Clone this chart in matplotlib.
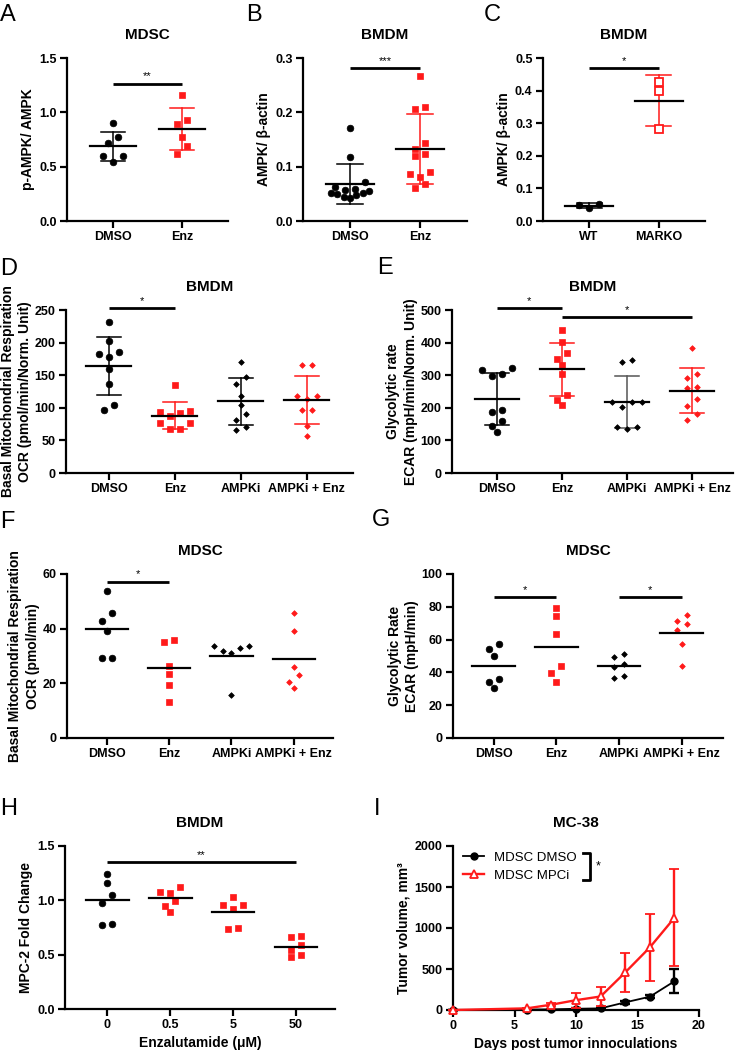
import numpy as np
import matplotlib
matplotlib.use("Agg")
import matplotlib.pyplot as plt
from matplotlib.lines import Line2D

plt.rcParams['font.family'] = ['Liberation Sans', 'DejaVu Sans']
plt.rcParams['font.weight'] = 'bold'
plt.rcParams['axes.labelweight'] = 'bold'

RED = '#ff1a1a'

# ---- data ----
# A  MDSC p-AMPK/AMPK
a_dmso = [0.90, 0.77, 0.72, 0.60, 0.60, 0.54]
a_enz = [1.16, 0.93, 0.89, 0.77, 0.69, 0.62]
# B  BMDM AMPK/b-actin
b_dmso = [0.171, 0.117, 0.071, 0.062, 0.059, 0.057, 0.056, 0.052, 0.052, 0.050, 0.048, 0.045, 0.042]
b_enz = [0.266, 0.207, 0.210, 0.144, 0.132, 0.123, 0.119, 0.086, 0.091, 0.081, 0.069, 0.060]
# C  BMDM WT vs MARKO
c_wt = [0.052, 0.040, 0.050]
c_marko = [0.427, 0.399, 0.281]
# D  BMDM OCR
d_dmso = [232, 203, 183, 185, 178, 160, 137, 97, 105]
d_enz = [135, 95, 92, 87, 93, 77, 77, 67, 68]
d_ampki = [171, 148, 136, 118, 104, 91, 82, 71, 66]
d_combo = [165, 165, 118, 118, 114, 97, 97, 72, 56]
# E  BMDM ECAR
e_dmso = [316, 298, 304, 321, 187, 192, 161, 145, 126]
e_enz = [439, 403, 367, 349, 332, 304, 238, 224, 209]
e_ampki = [340, 347, 217, 217, 202, 217, 140, 136, 140]
e_combo = [383, 303, 291, 260, 263, 228, 204, 181, 163]
# F  MDSC OCR
f_dmso = [53.9, 45.7, 42.9, 39.0, 29.3, 29.3]
f_enz = [35.7, 35.0, 26.5, 23.5, 19.4, 13.2]
f_ampki = [33.7, 32.0, 31.0, 32.9, 33.7, 15.9]
f_combo = [45.7, 39.3, 26.1, 23.0, 20.4, 18.3]
# G  MDSC ECAR
g_dmso = [54.5, 57.3, 50.2, 35.8, 33.9, 30.5]
g_enz = [79.3, 74.2, 63.6, 43.7, 39.6, 34.1]
g_ampki = [45.1, 51.2, 49.2, 43.5, 36.4, 38.0]
g_combo = [71.5, 75.0, 69.3, 65.7, 57.5, 43.7]
# H  MPC-2 fold change
h_doses = ['0', '0.5', '5', '50']
h_0 = [1.246, 1.164, 1.051, 0.978, 0.773, 0.782]
h_05 = [1.127, 1.072, 1.078, 0.993, 0.950, 0.889]
h_5 = [1.033, 0.956, 0.956, 0.923, 0.736, 0.748]
h_50 = [0.663, 0.675, 0.590, 0.547, 0.495, 0.474]
# I  MC-38 tumour growth
i_days = [0, 6, 8, 10, 12, 14, 16, 18]
i_dmso = [0, 5, 8, 15, 20, 93, 162, 350]
i_dmso_sd = [0, 3, 4, 6, 10, 15, 20, 148]
i_mpci = [0, 20, 65, 120, 165, 458, 763, 1124]
i_mpci_sd = [0, 8, 20, 93, 115, 240, 409, 592]

treat4 = ['DMSO', 'Enz', 'AMPKi', 'AMPKi + Enz']

TICK = 9
YLAB = 10
TITLE = 11

W, H = 736, 1050
fig = plt.figure(figsize=(W / 100, H / 100), dpi=100)


def px_axes(l, t, r, b):
    return fig.add_axes([l / W, 1 - b / H, (r - l) / W, (b - t) / H])


def style(ax):
    for s in ['top', 'right']:
        ax.spines[s].set_visible(False)
    for s in ['left', 'bottom']:
        ax.spines[s].set_linewidth(1.6)
    ax.tick_params(width=1.6, length=5, labelsize=TICK, pad=2.5)


def swarm(vals, px_x, px_y, thr=8, gap=10, maxw=44):
    # GraphPad-like spreading: rows of close values, lowest in the middle
    vals = np.asarray(vals, float)
    order = np.argsort(-vals, kind='stable')
    rows = []
    for i in order:
        if rows and (vals[rows[-1][0]] - vals[i]) * px_y < thr:
            rows[-1].append(i)
        else:
            rows.append([i])
    off = np.zeros(len(vals))
    for row in rows:
        n = len(row)
        step = min(gap, maxw / n)
        row = sorted(row, key=lambda k: vals[k])
        for j, k in enumerate(row):
            if n % 2:
                slot = ((j + 1) // 2) * (-1 if j % 2 else 1)
            else:
                slot = (j // 2 + 0.5) * (-1 if j % 2 == 0 else 1)
            off[k] = slot * step
    return off / px_x


def dots(ax, groups, labels, styles, xlim, ylim, yticks, fmt, sd=True, errc=None):
    style(ax)
    ax.set_xlim(*xlim)
    ax.set_ylim(*ylim)
    pos = ax.get_position()
    px_x = pos.width * W / (xlim[1] - xlim[0])
    px_y = pos.height * H / (ylim[1] - ylim[0])
    for i, (vals, st) in enumerate(zip(groups, styles)):
        vals = np.asarray(vals, float)
        x = i + swarm(vals, px_x, px_y)
        m = vals.mean()
        if sd:
            s = vals.std(ddof=1)
            c = errc[i] if errc else st['color']
            ax.plot([i, i], [m - s, m + s], color=c, lw=1.1, zorder=2)
            for yy in (m - s, m + s):
                ax.plot([i - 0.18, i + 0.18], [yy, yy], color=c, lw=1.1, zorder=2)
        ax.plot([i - 0.34, i + 0.34], [m, m], color='black', lw=1.6, zorder=4)
        ax.plot(x, vals, ls='none', marker=st['marker'], ms=st['ms'], color=st['color'],
                mfc=st.get('mfc', st['color']), mec=st['color'], mew=st.get('mew', 0.5),
                zorder=3, clip_on=False)
    ax.set_xticks(range(len(groups)))
    ax.set_xticklabels(labels)
    ax.set_yticks(yticks)
    ax.set_yticklabels([fmt.format(v) for v in yticks])


def sig(ax, x1, x2, y, txt):
    ax.plot([x1, x2], [y, y], color='black', lw=2, clip_on=False, solid_capstyle='butt')
    ax.annotate(txt, xy=((x1 + x2) / 2, y), xytext=(0, 1.5), textcoords='offset points',
                ha='center', va='bottom', fontsize=8, fontweight='normal',
                annotation_clip=False)


circ = dict(marker='o', ms=4.8, color='black')
sq = dict(marker='s', ms=4.4, color=RED)
osq = dict(marker='s', ms=5.2, color=RED, mfc='white', mew=1.3)
kdia = dict(marker='D', ms=2.9, color='black')
rdia = dict(marker='D', ms=2.9, color=RED)
st4 = [circ, sq, kdia, rdia]

# A
ax = px_axes(67, 58, 228, 221)
dots(ax, [a_dmso, a_enz], ['DMSO', 'Enz'], [circ, sq], (-0.667, 1.667), (0, 1.5),
     [0, 0.5, 1.0, 1.5], '{:.1f}')
ax.set_ylabel('p-AMPK/ AMPK', fontsize=YLAB, labelpad=3)
ax.set_title('MDSC', fontsize=TITLE, fontweight='bold', pad=13.5)
sig(ax, 0, 1, 1.265, '**')

# B
ax = px_axes(303, 58, 467, 221)
dots(ax, [b_dmso, b_enz], ['DMSO', 'Enz'], [circ, sq], (-0.67, 1.67), (0, 0.3),
     [0, 0.1, 0.2, 0.3], '{:.1f}', errc=['black', RED])
ax.set_ylabel('AMPK/ β-actin', fontsize=YLAB, labelpad=3)
ax.set_title('BMDM', fontsize=TITLE, fontweight='bold', pad=13.5)
sig(ax, 0, 1, 0.282, '***')

# C
ax = px_axes(543, 58, 705, 221)
dots(ax, [c_wt, c_marko], ['WT', 'MARKO'], [circ, osq], (-0.66, 1.66), (0, 0.5),
     [0, 0.1, 0.2, 0.3, 0.4, 0.5], '{:.1f}')
ax.set_ylabel('AMPK/ β-actin', fontsize=YLAB, labelpad=3)
ax.set_title('BMDM', fontsize=TITLE, fontweight='bold', pad=13.5)
sig(ax, 0, 1, 0.470, '*')

# D
ax = px_axes(66, 310, 353, 473)
dots(ax, [d_dmso, d_enz, d_ampki, d_combo], treat4, st4, (-0.65, 3.70), (0, 250),
     [0, 50, 100, 150, 200, 250], '{:d}')
ax.set_ylabel('Basal Mitochondrial Respiration\nOCR (pmol/min/Norm. Unit)', fontsize=YLAB,
              labelpad=2, linespacing=1.3)
ax.set_title('BMDM', fontsize=TITLE, fontweight='bold', pad=13.5)
sig(ax, 0, 1, 253, '*')

# E
ax = px_axes(452, 310, 733, 473)
dots(ax, [e_dmso, e_enz, e_ampki, e_combo], treat4, st4, (-0.69, 3.63), (0, 500),
     [0, 100, 200, 300, 400, 500], '{:d}', errc=['black', RED, '#555555', RED])
ax.set_ylabel('Glycolytic rate\nECAR (mpH/min/Norm. Unit)', fontsize=YLAB,
              labelpad=2, linespacing=1.3)
ax.set_title('BMDM', fontsize=TITLE, fontweight='bold', pad=13.5)
sig(ax, 0, 1, 505, '*')
sig(ax, 1, 3, 478, '*')

# F
ax = px_axes(67, 574, 333, 738)
dots(ax, [f_dmso, f_enz, f_ampki, f_combo], treat4, st4, (-0.64, 3.63), (0, 60),
     [0, 20, 40, 60], '{:d}', sd=False)
ax.set_ylabel('Basal Mitochondrial Respiration\nOCR (pmol/min)', fontsize=YLAB,
              labelpad=2, linespacing=1.3)
ax.set_title('MDSC', fontsize=TITLE, fontweight='bold', pad=13.5)
sig(ax, 0, 1, 57.2, '*')

# G
ax = px_axes(453, 574, 723, 738)
dots(ax, [g_dmso, g_enz, g_ampki, g_combo], treat4, st4, (-0.65, 3.66), (0, 100),
     [0, 20, 40, 60, 80, 100], '{:d}', sd=False)
ax.set_ylabel('Glycolytic Rate\nECAR (mpH/min)', fontsize=YLAB, labelpad=2, linespacing=1.3)
ax.set_title('MDSC', fontsize=TITLE, fontweight='bold', pad=13.5)
sig(ax, 0, 1, 86, '*')
sig(ax, 2, 3, 86, '*')

# H
ax = px_axes(65, 846, 335, 1009)
dots(ax, [h_0, h_05, h_5, h_50], h_doses, [circ, sq, sq, sq], (-0.67, 3.62), (0, 1.5),
     [0, 0.5, 1.0, 1.5], '{:.1f}', sd=False)
ax.set_ylabel('MPC-2 Fold Change', fontsize=YLAB, labelpad=3)
ax.set_xlabel('Enzalutamide (μM)', fontsize=10, labelpad=3)
ax.set_title('BMDM', fontsize=TITLE, fontweight='bold', pad=13.5)
sig(ax, 0, 3, 1.35, '**')

# I
ax = px_axes(453, 846, 699, 1010)
style(ax)
ax.errorbar(i_days, i_dmso, yerr=i_dmso_sd, color='black', lw=1.3, marker='o', ms=5,
            capsize=3.5, capthick=1.7, elinewidth=1.7, clip_on=False, zorder=3)
ax.errorbar(i_days, i_mpci, yerr=i_mpci_sd, color=RED, lw=1.7, marker='^', ms=6,
            mfc='white', mec=RED, mew=1.3, capsize=3.5, capthick=1.7, elinewidth=1.7,
            clip_on=False, zorder=4)
ax.set_xlim(0, 20)
ax.set_ylim(0, 2000)
ax.set_xticks([0, 5, 10, 15, 20])
ax.set_yticks([0, 500, 1000, 1500, 2000])
ax.set_xlabel('Days post tumor innoculations', fontsize=10, labelpad=3)
ax.set_ylabel('Tumor volume, mm³', fontsize=10, labelpad=3)
ax.set_title('MC-38', fontsize=TITLE, fontweight='bold', pad=13.5)
handles = [Line2D([], [], color='black', lw=1.3, marker='o', ms=5),
           Line2D([], [], color=RED, lw=1.7, marker='^', ms=6, mfc='white', mec=RED, mew=1.3)]
ax.legend(handles, ['MDSC DMSO', 'MDSC MPCi'], loc='upper left', bbox_to_anchor=(0.02, 1.0),
          borderaxespad=0, frameon=False, handlelength=1.6, handletextpad=0.7,
          labelspacing=0.45, prop={'size': 9.5, 'weight': 'normal'})
ax.plot([0.528, 0.557, 0.557, 0.528], [0.957, 0.957, 0.793, 0.793], color='black', lw=2,
        transform=ax.transAxes, clip_on=False)
ax.text(0.59, 0.875, '*', transform=ax.transAxes, fontsize=9, fontweight='normal',
        ha='center', va='center')

# panel letters
letters = [('A', 0, 15), ('B', 246, 15), ('C', 484, 15), ('D', 0, 269), ('E', 377, 268),
           ('F', 0, 522), ('G', 372, 520), ('H', 0, 809), ('I', 374, 809)]
for s, x, y in letters:
    fig.text(x / W, 1 - y / H, s, fontsize=17, fontweight='normal', ha='left', va='center')

fig.savefig('out.png', dpi=100)
